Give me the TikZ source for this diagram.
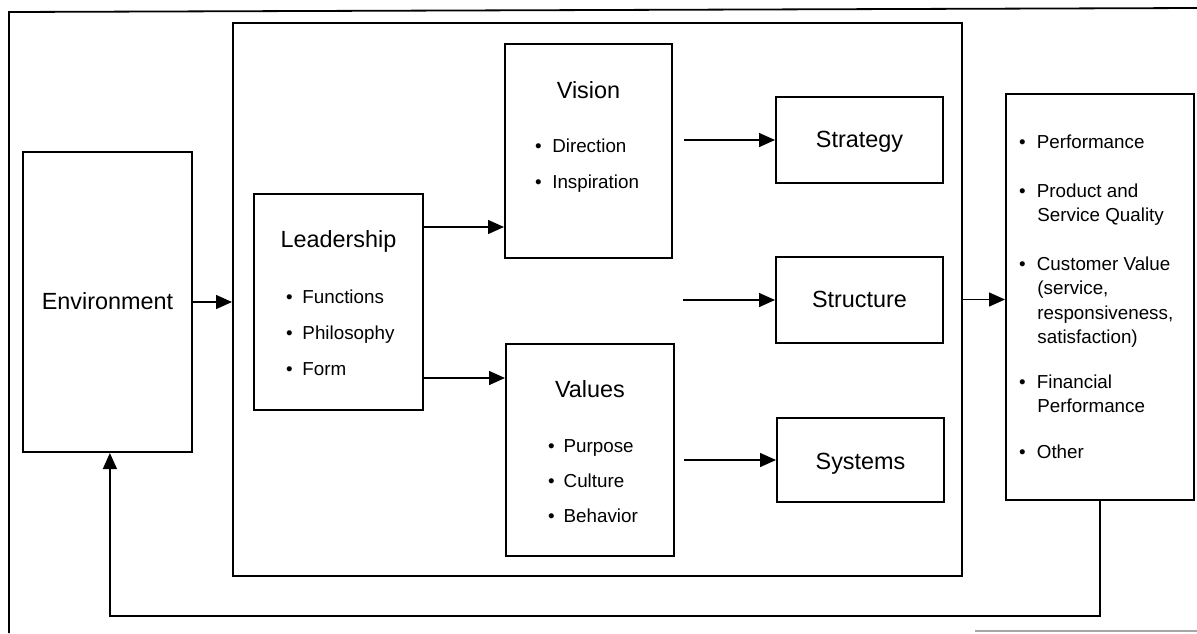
\documentclass[tikz,border=0pt]{standalone}
\usepackage{fontspec}
\setmainfont{Liberation Sans}
\usetikzlibrary{arrows.meta}
\begin{document}
\begin{tikzpicture}[x=0.5pt,y=-0.5pt,
  box/.style={draw, line width=1pt, inner sep=0pt},
  conn/.style={line width=0.7pt, -{Triangle[length=8pt,width=7pt]}},
  ttl/.style={font=\fontsize{11.7}{14}\selectfont, inner sep=0pt, anchor=base},
  itm/.style={font=\fontsize{9.4}{12}\selectfont, inner sep=0pt, anchor=base west}]
\useasboundingbox (0,0) rectangle (1197,633);
% outer border
\draw[line width=0.9pt] (9,633) -- (9,12) -- (1197,8);
\draw[black!35, line width=0.7pt] (975,631) -- (1197,631);
% boxes
\node[box, minimum width=84.5pt, minimum height=150pt] (env) at (107.5,302) {};
\node[box, minimum width=364.5pt, minimum height=276.5pt] (frame) at (597.5,299.5) {};
\node[box, minimum width=84.5pt, minimum height=108pt] (lead) at (338.5,302) {};
\node[box, minimum width=83.5pt, minimum height=107pt] (vision) at (588.5,151) {};
\node[box, minimum width=84pt, minimum height=106pt] (values) at (590,450) {};
\node[box, minimum width=83.5pt, minimum height=43pt] (strat) at (859.5,140) {};
\node[box, minimum width=83.5pt, minimum height=43pt] (struct) at (859.5,300) {};
\node[box, minimum width=83.5pt, minimum height=42pt] (syst) at (860.5,460) {};
\node[box, minimum width=94pt, minimum height=203pt] (out) at (1100,297) {};
% titles
\node[ttl] (tenv) at (107.5,309) {Environment};
\node[ttl] (tlead) at (338.5,247) {Leadership};
\node[ttl] (tvis) at (588.5,98) {Vision};
\node[ttl] (tval) at (590,397) {Values};
\node[ttl] (tstrat) at (859.5,147) {Strategy};
\node[ttl] (tstruct) at (859.5,307) {Structure};
\node[ttl] (tsyst) at (860.5,469) {Systems};
% leadership items
\node[itm] (l1) at (285.7,303.5) {\textbullet\hspace{4.9pt}Functions};
\node[itm] (l2) at (285.7,339.5) {\textbullet\hspace{4.9pt}Philosophy};
\node[itm] (l3) at (285.7,375.5) {\textbullet\hspace{4.9pt}Form};
% vision items
\node[itm] (v1) at (534.7,152.5) {\textbullet\hspace{5.3pt}Direction};
\node[itm] (v2) at (534.7,188.5) {\textbullet\hspace{5.3pt}Inspiration};
% values items
\node[itm] (w1) at (547.7,452.5) {\textbullet\hspace{4.5pt}Purpose};
\node[itm] (w2) at (547.7,487.5) {\textbullet\hspace{4.5pt}Culture};
\node[itm] (w3) at (547.7,522.5) {\textbullet\hspace{4.5pt}Behavior};
% output items
\node[itm] (o1) at (1018.7,148.5) {\textbullet\hspace{5.6pt}Performance};
\node[itm] (o2) at (1018.7,197.5) {\textbullet\hspace{5.6pt}Product and};
\node[itm] (o2b) at (1037,221.5) {Service Quality};
\node[itm] (o3) at (1018.7,270.5) {\textbullet\hspace{5.6pt}Customer Value};
\node[itm] (o3b) at (1037,294.5) {(service,};
\node[itm] (o3c) at (1037,319.5) {responsiveness,};
\node[itm] (o3d) at (1037,343.5) {satisfaction)};
\node[itm] (o4) at (1018.7,388.5) {\textbullet\hspace{5.6pt}Financial};
\node[itm] (o4b) at (1037,412.5) {Performance};
\node[itm] (o5) at (1018.7,458.5) {\textbullet\hspace{5.6pt}Other};
% connectors
\draw[conn] (env.east) -- (env.east -| frame.west);
\draw[conn] (lead.east |- 0,227) -- (vision.west |- 0,227);
\draw[conn] (lead.east |- 0,378) -- (values.west |- 0,378);
\draw[conn] ([xshift=5.5pt]vision.east |- strat.west) -- (strat.west);
\coordinate (sfree) at (683,300);
\draw[conn] (sfree) -- (struct.west);
\draw[conn] ([xshift=4.5pt]values.east |- syst.west) -- (syst.west);
\draw[conn] (frame.east) -- (frame.east -| out.west);
\draw[conn] (out.south) -- (out.south |- 0,616) -| ([xshift=1.2pt]env.south);
\end{tikzpicture}
\end{document}
